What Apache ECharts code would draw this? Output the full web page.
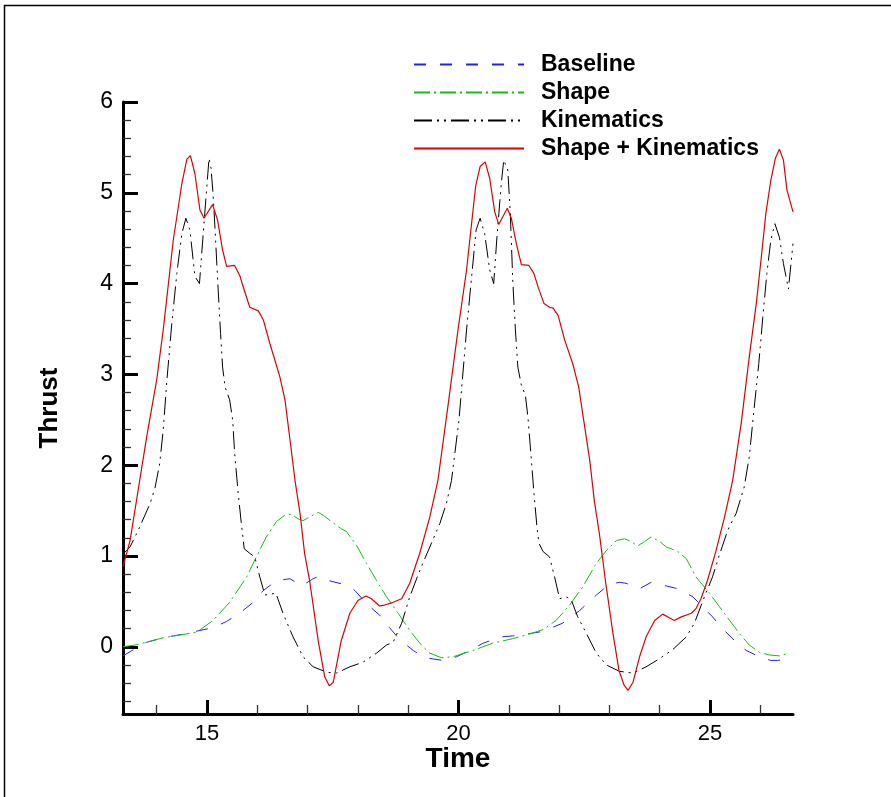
<!DOCTYPE html>
<html>
<head>
<meta charset="utf-8">
<title>Thrust vs Time</title>
<script src="https://cdn.jsdelivr.net/npm/echarts@6/dist/echarts.min.js"></script>
<style>
  html, body { margin: 0; padding: 0; background: #fff; }
  #chart { width: 891px; height: 797px; }
</style>
</head>
<body>
<div id="chart"></div>
<script>
// values, [time, thrust]
var baseline = [
  [13.33, -0.10], [13.57, -0.02], [13.80, 0.05], [14.13, 0.10], [14.53, 0.14], [14.86, 0.18],
  [15.12, 0.21], [15.39, 0.28], [15.65, 0.37], [15.92, 0.49], [16.12, 0.62], [16.38, 0.73],
  [16.65, 0.75], [16.88, 0.67], [17.11, 0.75], [17.24, 0.78], [17.41, 0.73], [17.77, 0.68],
  [17.94, 0.62], [18.20, 0.46], [18.43, 0.35], [18.63, 0.21], [18.83, 0.08], [19.10, -0.04],
  [19.33, -0.12], [19.69, -0.15], [19.96, -0.11], [20.29, -0.02], [20.49, 0.04], [20.85, 0.11],
  [21.08, 0.12], [21.35, 0.14], [21.68, 0.17], [22.07, 0.26], [22.41, 0.40], [22.74, 0.57],
  [23.00, 0.69], [23.20, 0.71], [23.33, 0.70], [23.60, 0.64], [23.83, 0.71], [24.13, 0.67],
  [24.36, 0.64], [24.66, 0.55], [24.82, 0.46], [25.05, 0.33], [25.25, 0.20], [25.52, 0.05],
  [25.72, -0.04], [25.98, -0.11], [26.21, -0.15], [26.34, -0.15], [26.65, -0.13]
];

var shape = [
  [13.33, 0.00], [13.57, 0.02], [13.80, 0.05], [14.13, 0.10], [14.46, 0.13], [14.79, 0.16],
  [15.12, 0.29], [15.45, 0.49], [15.79, 0.77], [15.98, 0.99], [16.18, 1.21], [16.38, 1.38],
  [16.55, 1.45], [16.68, 1.46], [16.81, 1.41], [16.91, 1.39], [17.04, 1.43], [17.21, 1.48],
  [17.31, 1.45], [17.47, 1.38], [17.67, 1.30], [17.77, 1.27], [17.97, 1.12], [18.17, 0.92],
  [18.37, 0.73], [18.57, 0.55], [18.80, 0.37], [19.03, 0.18], [19.26, 0.02], [19.43, -0.07],
  [19.66, -0.12], [19.89, -0.11], [20.29, -0.04], [20.68, 0.04], [21.08, 0.09], [21.41, 0.14],
  [21.68, 0.19], [21.94, 0.29], [22.21, 0.46], [22.47, 0.66], [22.74, 0.92], [22.94, 1.06],
  [23.14, 1.17], [23.30, 1.19], [23.43, 1.16], [23.56, 1.11], [23.70, 1.16], [23.83, 1.21],
  [24.00, 1.16], [24.13, 1.10], [24.36, 1.05], [24.53, 0.97], [24.72, 0.77], [24.99, 0.59],
  [25.19, 0.44], [25.39, 0.29], [25.58, 0.15], [25.78, 0.02], [25.98, -0.06], [26.18, -0.09],
  [26.38, -0.10], [26.58, -0.07]
];

var kinematics = [
  [13.33, 1.02], [13.47, 1.10], [13.63, 1.28], [13.87, 1.58], [13.97, 1.76], [14.06, 2.02],
  [14.13, 2.39], [14.20, 2.92], [14.30, 3.56], [14.40, 4.11], [14.50, 4.55], [14.58, 4.72],
  [14.66, 4.59], [14.76, 4.08], [14.85, 4.00], [14.94, 4.66], [15.04, 5.38], [15.08, 5.27],
  [15.12, 4.99], [15.16, 4.60], [15.22, 3.95], [15.27, 3.45], [15.31, 3.08], [15.36, 2.86],
  [15.45, 2.72], [15.51, 2.50], [15.55, 2.13], [15.62, 1.69], [15.69, 1.32], [15.74, 1.08],
  [15.85, 1.03], [15.95, 0.99], [16.05, 0.77], [16.15, 0.57], [16.25, 0.58], [16.37, 0.59],
  [16.51, 0.37], [16.71, 0.11], [16.91, -0.11], [17.11, -0.22], [17.38, -0.28], [17.57, -0.29],
  [17.84, -0.22], [18.10, -0.17], [18.37, -0.07], [18.57, 0.02], [18.70, 0.05], [18.87, 0.26],
  [19.03, 0.55], [19.23, 0.84], [19.43, 1.10], [19.63, 1.36], [19.76, 1.58], [19.86, 1.83],
  [20.01, 2.50], [20.16, 3.49], [20.26, 4.07], [20.35, 4.59], [20.43, 4.72], [20.52, 4.55],
  [20.62, 4.15], [20.70, 4.00], [20.76, 4.48], [20.85, 5.10], [20.90, 5.36], [20.98, 5.25],
  [21.03, 4.77], [21.08, 4.02], [21.13, 3.50], [21.18, 3.08], [21.25, 2.88], [21.33, 2.77],
  [21.38, 2.53], [21.45, 2.05], [21.50, 1.69], [21.56, 1.32], [21.60, 1.14], [21.68, 1.05],
  [21.81, 0.99], [21.91, 0.77], [22.01, 0.53], [22.14, 0.55], [22.24, 0.52], [22.37, 0.33],
  [22.54, 0.15], [22.74, -0.07], [22.94, -0.20], [23.20, -0.27], [23.47, -0.29], [23.73, -0.22],
  [24.00, -0.13], [24.26, -0.03], [24.53, 0.11], [24.69, 0.26], [24.86, 0.51], [25.05, 0.77],
  [25.18, 1.00], [25.35, 1.28], [25.52, 1.47], [25.68, 1.76], [25.78, 2.09], [25.88, 2.64],
  [25.97, 3.12], [26.05, 3.63], [26.13, 4.11], [26.21, 4.48], [26.29, 4.66], [26.38, 4.51],
  [26.46, 4.22], [26.56, 3.94], [26.61, 4.22], [26.65, 4.44]
];

var shapeKinematics = [
  [13.33, 0.88], [13.47, 1.17], [13.63, 1.72], [13.80, 2.31], [14.00, 2.94], [14.13, 3.49],
  [14.33, 4.48], [14.50, 5.10], [14.60, 5.37], [14.67, 5.41], [14.76, 5.21], [14.86, 4.81],
  [14.94, 4.72], [15.11, 4.87], [15.21, 4.70], [15.31, 4.37], [15.39, 4.19], [15.55, 4.20],
  [15.65, 4.09], [15.74, 3.93], [15.85, 3.74], [16.02, 3.70], [16.12, 3.60], [16.25, 3.34],
  [16.45, 2.97], [16.55, 2.72], [16.65, 2.28], [16.75, 1.83], [16.85, 1.47], [16.94, 1.03],
  [17.04, 0.73], [17.21, 0.07], [17.34, -0.33], [17.43, -0.43], [17.51, -0.39], [17.67, 0.07],
  [17.84, 0.37], [18.00, 0.51], [18.16, 0.56], [18.27, 0.53], [18.43, 0.45], [18.53, 0.46],
  [18.70, 0.49], [18.87, 0.53], [19.03, 0.70], [19.23, 1.03], [19.43, 1.43], [19.59, 1.83],
  [19.79, 2.65], [19.99, 3.49], [20.16, 4.15], [20.34, 5.07], [20.43, 5.29], [20.53, 5.34],
  [20.62, 5.16], [20.72, 4.79], [20.80, 4.65], [20.97, 4.83], [21.05, 4.72], [21.15, 4.44],
  [21.25, 4.21], [21.40, 4.20], [21.50, 4.11], [21.59, 3.95], [21.70, 3.78], [21.81, 3.74],
  [21.88, 3.73], [21.98, 3.65], [22.11, 3.38], [22.27, 3.12], [22.39, 2.86], [22.51, 2.42],
  [22.61, 2.05], [22.70, 1.61], [22.80, 1.25], [22.87, 0.95], [22.92, 0.73], [23.07, 0.15],
  [23.19, -0.26], [23.29, -0.42], [23.37, -0.48], [23.47, -0.39], [23.60, -0.11], [23.73, 0.11],
  [23.90, 0.29], [24.06, 0.36], [24.19, 0.32], [24.29, 0.29], [24.43, 0.33], [24.63, 0.37],
  [24.72, 0.42], [24.82, 0.53], [24.95, 0.73], [25.12, 1.06], [25.29, 1.43], [25.45, 1.83],
  [25.62, 2.46], [25.78, 3.19], [25.92, 3.78], [26.02, 4.29], [26.11, 4.77], [26.21, 5.14],
  [26.30, 5.38], [26.38, 5.48], [26.46, 5.36], [26.53, 5.03], [26.65, 4.79]
];

// tick positions
var xMajor = [15, 20, 25];
var xMinor = [14, 16, 17, 18, 19, 21, 22, 23, 24, 26];
var yMajor = [0, 1, 2, 3, 4, 5, 6];
var yMinor = [-0.6, -0.4, -0.2, 0.2, 0.4, 0.6, 0.8, 1.2, 1.4, 1.6, 1.8, 2.2, 2.4, 2.6, 2.8,
  3.2, 3.4, 3.6, 3.8, 4.2, 4.4, 4.6, 4.8, 5.2, 5.4, 5.6, 5.8];

var FONT = '"Liberation Sans", Arial, Helvetica, sans-serif';

var chart = echarts.init(document.getElementById('chart'));

function lineSeries(name, data, color, width, dash) {
    return {
        name: name,
        type: 'line',
        data: data,
        symbol: 'none',
        showSymbol: false,
        xAxisIndex: 0,
        yAxisIndex: 0,
        itemStyle: { color: color, opacity: 0 },
        lineStyle: { color: color, width: width, type: dash },
        emphasis: { disabled: true }
    };
}

var option = {
    animation: false,
    backgroundColor: '#fff',
    textStyle: { fontFamily: FONT },
    grid: { left: 123, right: 98, top: 102, bottom: 83, containLabel: false },
    legend: {
        orient: 'vertical',
        left: 413,
        top: 53,
        padding: 0,
        itemWidth: 110,
        itemHeight: 14,
        itemGap: 5,
        selectedMode: false,
        itemStyle: { opacity: 0 },
        textStyle: { fontFamily: FONT, fontSize: 23, fontWeight: 'bold', color: '#000', padding: [0, 0, 0, 12] },
        data: ['Baseline', 'Shape', 'Kinematics', 'Shape + Kinematics']
    },
    xAxis: [
        {
            type: 'value',
            position: 'bottom',
            min: 13.33,
            max: 26.65,
            name: 'Time',
            nameLocation: 'middle',
            nameGap: 31,
            nameMoveOverlap: false,
            nameTextStyle: { fontFamily: FONT, fontSize: 28, fontWeight: 'bold', color: '#000' },
            axisLine: { show: true, onZero: false, lineStyle: { color: '#000', width: 3 } },
            axisTick: { show: true, inside: true, length: 14, customValues: xMajor, lineStyle: { color: '#000', width: 3 } },
            axisLabel: { show: true, customValues: xMajor, margin: 9, fontSize: 22, color: '#000', fontFamily: FONT },
            splitLine: { show: false }
        },
        {
            type: 'value',
            position: 'bottom',
            min: 13.33,
            max: 26.65,
            axisLine: { show: false, onZero: false },
            axisTick: { show: true, inside: true, length: 9, customValues: xMinor, lineStyle: { color: '#333', width: 1.3 } },
            axisLabel: { show: false },
            splitLine: { show: false }
        }
    ],
    yAxis: [
        {
            type: 'value',
            position: 'left',
            min: -0.74,
            max: 6,
            name: 'Thrust',
            nameLocation: 'middle',
            nameGap: 60,
            nameMoveOverlap: false,
            nameTextStyle: { fontFamily: FONT, fontSize: 26, fontWeight: 'bold', color: '#000' },
            axisLine: { show: true, onZero: false, lineStyle: { color: '#000', width: 3 } },
            axisTick: { show: true, inside: true, length: 15, customValues: yMajor, lineStyle: { color: '#000', width: 3 } },
            axisLabel: { show: true, customValues: yMajor, margin: 10, fontSize: 23, color: '#000', fontFamily: FONT },
            splitLine: { show: false }
        },
        {
            type: 'value',
            position: 'left',
            min: -0.74,
            max: 6,
            axisLine: { show: false, onZero: false },
            axisTick: { show: true, inside: true, length: 8, customValues: yMinor, lineStyle: { color: '#333', width: 1.3 } },
            axisLabel: { show: false },
            splitLine: { show: false }
        }
    ],
    graphic: [
        {
            type: 'rect',
            silent: true,
            shape: { x: 4.5, y: 5.5, width: 1200, height: 1200 },
            style: { fill: 'none', stroke: '#000', lineWidth: 1.5 }
        }
    ],
    series: [
        lineSeries('Baseline', baseline, '#2020ff', 1, [12, 14]),
        lineSeries('Shape', shape, '#10c010', 1, [16, 4, 2, 4]),
        lineSeries('Kinematics', kinematics, '#000', 1, [18, 5, 2, 5, 2, 5]),
        lineSeries('Shape + Kinematics', shapeKinematics, '#e00000', 1.2, 'solid')
    ]
};

chart.setOption(option);
</script>
</body>
</html>
